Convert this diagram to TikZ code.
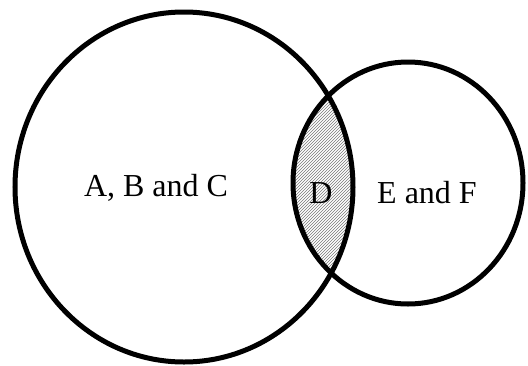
\documentclass[tikz,border=0pt]{standalone}
\usepackage{fontspec}
\setmainfont{Liberation Serif}
\usetikzlibrary{patterns}
\definecolor{hatchgray}{RGB}{120,120,120}
\tikzset{
  setline/.style={line width=5pt},
  setlabel/.style={font=\fontsize{32}{38}\selectfont, inner sep=0pt}
}
\begin{document}
\begin{tikzpicture}[x=1pt, y=-1pt]
  \useasboundingbox (0,0) rectangle (528,365);
  \begin{scope}
    \clip (184,187) ellipse (169 and 175);
    \fill[pattern=north east lines, pattern color=hatchgray] (408,183) ellipse (115 and 121);
  \end{scope}
  \draw[setline] (184,187) ellipse (169 and 175);
  \draw[setline] (408,183) ellipse (115 and 121);
  \node[setlabel] (abc) at (156,188) {A, B and C};
  \node[setlabel] (d) at (321,193) {D};
  \node[setlabel] (ef) at (427,193) {E and F};
\end{tikzpicture}
\end{document}
